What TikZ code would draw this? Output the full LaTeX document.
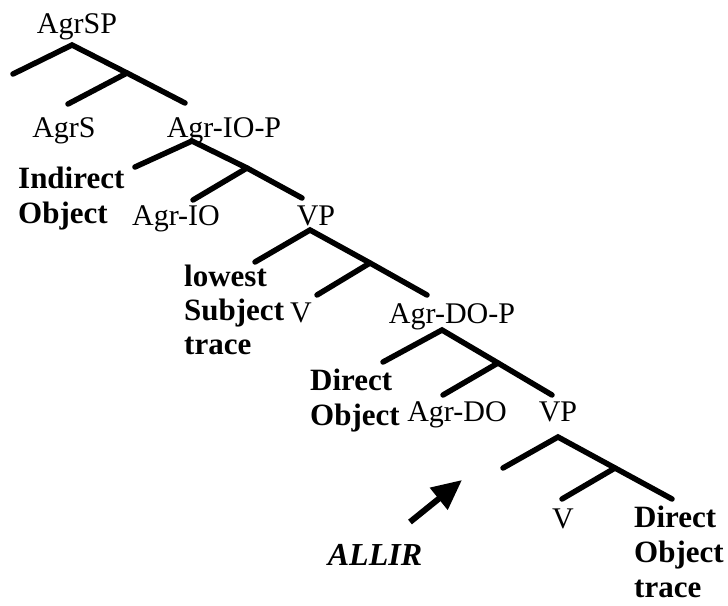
\documentclass[tikz,border=0pt]{standalone}
\usepackage{fontspec}
\setmainfont{Liberation Serif}
\usetikzlibrary{arrows.meta}

\begin{document}
\begin{tikzpicture}[x=1pt, y=-1pt,
  lbl/.style={font=\fontsize{30}{33}\selectfont, inner sep=0pt, anchor=base},
  blbl/.style={font=\fontsize{31}{35}\selectfont\bfseries, inner sep=0pt, align=left, anchor=west},
  branch/.style={line width=5.5pt, line cap=round},
  arr/.style={-{Triangle[length=30pt, width=27pt]}, line width=6pt}
]
\useasboundingbox (0,0) rectangle (728,605);

% labels
\node[lbl] (agrsp) at (77,33) {AgrSP};
\node[lbl] (agrs) at (64,137) {AgrS};
\node[lbl] (agriop) at (224,137) {Agr-IO-P};
\node[blbl] (indobj) at (18,199) {Indirect\\Object};
\node[lbl] (agrio) at (176,225) {Agr-IO};
\node[lbl] (vpa) at (316,225) {VP};
\node[blbl, font=\fontsize{31}{34}\selectfont\bfseries] (lowsubj) at (184,310) {lowest\\Subject\\trace};
\node[lbl] (va) at (301,322) {V};
\node[lbl] (agrdop) at (452,323) {Agr-DO-P};
\node[blbl] (dirobj) at (310,401) {Direct\\Object};
\node[lbl] (agrdo) at (457,421) {Agr-DO};
\node[lbl] (vpb) at (558,421) {VP};
\node[lbl] (vb) at (563,528) {V};
\node[blbl] (dotrace) at (634,552) {Direct\\Object\\trace};
\node[font=\fontsize{32}{35}\selectfont\bfseries\itshape, inner sep=0pt, anchor=base] (allir) at (375,565) {ALLIR};

% branch points
\coordinate (spTop) at (72,45);   \coordinate (spSpec) at (13,74);
\coordinate (spBar) at (127,73);  \coordinate (spComp) at (185,103);
\coordinate (spHead) at (68,104);

\coordinate (ioTop) at (192,141); \coordinate (ioSpec) at (135,167);
\coordinate (ioBar) at (247,168); \coordinate (ioComp) at (302,198);
\coordinate (ioHead) at (193,200);

\coordinate (vaTop) at (310,230); \coordinate (vaSpec) at (255,262);
\coordinate (vaBar) at (370,263); \coordinate (vaComp) at (427,295);
\coordinate (vaHead) at (317,295);

\coordinate (doTop) at (442,330); \coordinate (doSpec) at (383,362);
\coordinate (doBar) at (498,363); \coordinate (doComp) at (552,395);
\coordinate (doHead) at (443,395);

\coordinate (vbTop) at (558,437); \coordinate (vbSpec) at (503,468);
\coordinate (vbBar) at (615,468); \coordinate (vbComp) at (672,499);
\coordinate (vbHead) at (562,499);

\coordinate (arrTail) at (410,522); \coordinate (arrTip) at (462,480);

% tree
\draw[branch] (spSpec) -- (spTop) -- (spBar) -- (spComp);
\draw[branch] (spBar) -- (spHead);
\draw[branch] (ioSpec) -- (ioTop) -- (ioBar) -- (ioComp);
\draw[branch] (ioBar) -- (ioHead);
\draw[branch] (vaSpec) -- (vaTop) -- (vaBar) -- (vaComp);
\draw[branch] (vaBar) -- (vaHead);
\draw[branch] (doSpec) -- (doTop) -- (doBar) -- (doComp);
\draw[branch] (doBar) -- (doHead);
\draw[branch] (vbSpec) -- (vbTop) -- (vbBar) -- (vbComp);
\draw[branch] (vbBar) -- (vbHead);

\draw[arr] (arrTail) -- (arrTip);
\end{tikzpicture}
\end{document}
